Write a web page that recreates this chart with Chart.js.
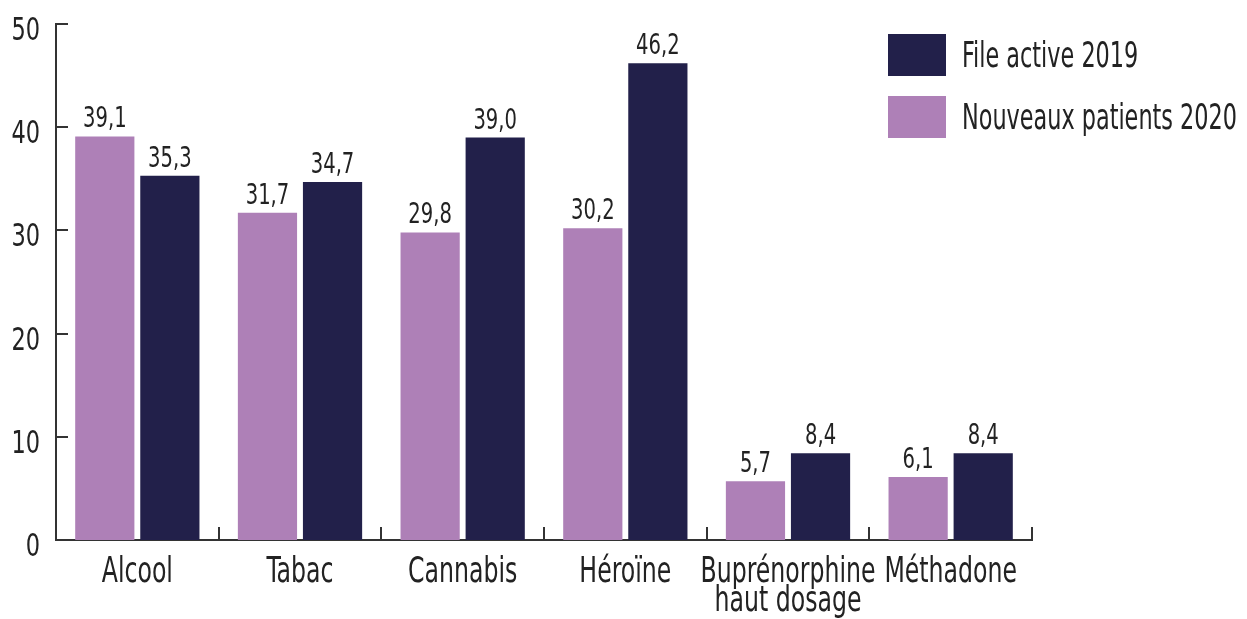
<!DOCTYPE html>
<html>
<head>
<meta charset="utf-8">
<script src="https://cdn.jsdelivr.net/npm/chart.js@4"></script>
<style>
  html, body { margin: 0; padding: 0; background: #fff; }
  #wrap { width: 1247px; height: 619px; }
</style>
</head>
<body>
<div id="wrap"><canvas id="chart" width="1247" height="619"></canvas></div>
<script>
// data
const categories = ['Alcool', 'Tabac', 'Cannabis', 'Héroïne', ['Buprénorphine', 'haut dosage'], 'Méthadone'];
const nouveaux2020 = [39.1, 31.7, 29.8, 30.2, 5.7, 6.1];
const fileActive2019 = [35.3, 34.7, 39.0, 46.2, 8.4, 8.4];
const yTicks = [0, 10, 20, 30, 40, 50];

const FONT = '"DejaVu Sans Condensed", "DejaVu Sans", sans-serif';
const TXT = '#222';
const AXIS = '#333';
const PURPLE = '#ae80b7';
const NAVY = '#22204a';

const fmt = v => v.toFixed(1).replace('.', ',');

// draw text squeezed horizontally, to mimic the narrow DIN-like face
function narrowText(ctx, text, x, y, size, align, sx = 0.75) {
  ctx.save();
  ctx.font = size + 'px ' + FONT;
  ctx.fillStyle = TXT;
  ctx.textAlign = align;
  ctx.textBaseline = 'alphabetic';
  ctx.translate(x, y);
  ctx.scale(sx, 1);
  ctx.fillText(text, 0, 0);
  ctx.restore();
}

// ── value labels above bars ──
const valueLabels = {
  id: 'valueLabels',
  afterDatasetsDraw(chart) {
    chart.data.datasets.forEach((ds, i) => {
      chart.getDatasetMeta(i).data.forEach((bar, j) => {
        narrowText(chart.ctx, fmt(ds.data[j]), bar.x, bar.y - 9, 29, 'center');
      });
    });
  }
};

// ── axis labels, drawn from the scales ──
const axisLabels = {
  id: 'axisLabels',
  afterDraw(chart) {
    const { ctx, chartArea, scales } = chart;
    yTicks.forEach(v => {
      narrowText(ctx, String(v), chartArea.left - 16, scales.y.getPixelForValue(v) + 16, 32, 'right', 0.78);
    });
    categories.forEach((c, i) => {
      const lines = Array.isArray(c) ? c : [c];
      const x = scales.x.getPixelForValue(i);
      lines.forEach((t, k) => narrowText(ctx, t, x, chartArea.bottom + 42 + k * 29, 35, 'center'));
    });
  }
};

// ── inward tick marks on both axes ──
const tickMarks = {
  id: 'tickMarks',
  afterDraw(chart) {
    const { ctx, chartArea, scales } = chart;
    ctx.save();
    ctx.strokeStyle = AXIS;
    ctx.lineWidth = 2;
    ctx.beginPath();
    yTicks.forEach(v => {
      if (v === 0) return;
      const y = Math.round(scales.y.getPixelForValue(v));
      ctx.moveTo(chartArea.left, y);
      ctx.lineTo(chartArea.left + 12, y);
    });
    for (let i = 0; i <= categories.length; i++) {
      const x = Math.round(scales.x.getPixelForValue(i - 0.5));
      ctx.moveTo(x, chartArea.bottom);
      ctx.lineTo(x, chartArea.bottom - 13);
    }
    ctx.stroke();
    ctx.restore();
  }
};

// ── legend in the top right corner ──
const boxLegend = {
  id: 'boxLegend',
  afterDraw(chart) {
    const ctx = chart.ctx;
    [1, 0].forEach((di, k) => {
      const ds = chart.data.datasets[di];
      const y = 34 + k * 62;
      ctx.fillStyle = ds.backgroundColor;
      ctx.fillRect(888, y, 58, 42);
      narrowText(ctx, ds.label, 962, y + 33, 35, 'left', 0.71);
    });
  }
};

new Chart(document.getElementById('chart'), {
  type: 'bar',
  data: {
    labels: categories,
    datasets: [
      { label: 'Nouveaux patients 2020', data: nouveaux2020, backgroundColor: PURPLE },
      { label: 'File active 2019', data: fileActive2019, backgroundColor: NAVY }
    ]
  },
  options: {
    responsive: false,
    animation: false,
    categoryPercentage: 0.8,
    barPercentage: 0.91,
    layout: { padding: { top: 24, right: 215, left: 0, bottom: 0 } },
    plugins: { legend: { display: false }, tooltip: { enabled: false } },
    scales: {
      y: {
        min: 0, max: 50,
        afterFit: s => { s.width = 56; },
        afterBuildTicks: s => { s.ticks = yTicks.map(v => ({ value: v })); },
        border: { display: true, color: AXIS, width: 2 },
        grid: { display: false },
        ticks: { display: false }
      },
      x: {
        afterFit: s => { s.height = 79; },
        border: { display: true, color: AXIS, width: 2 },
        grid: { display: false },
        ticks: { display: false }
      }
    }
  },
  plugins: [valueLabels, axisLabels, tickMarks, boxLegend]
});
</script>
</body>
</html>
